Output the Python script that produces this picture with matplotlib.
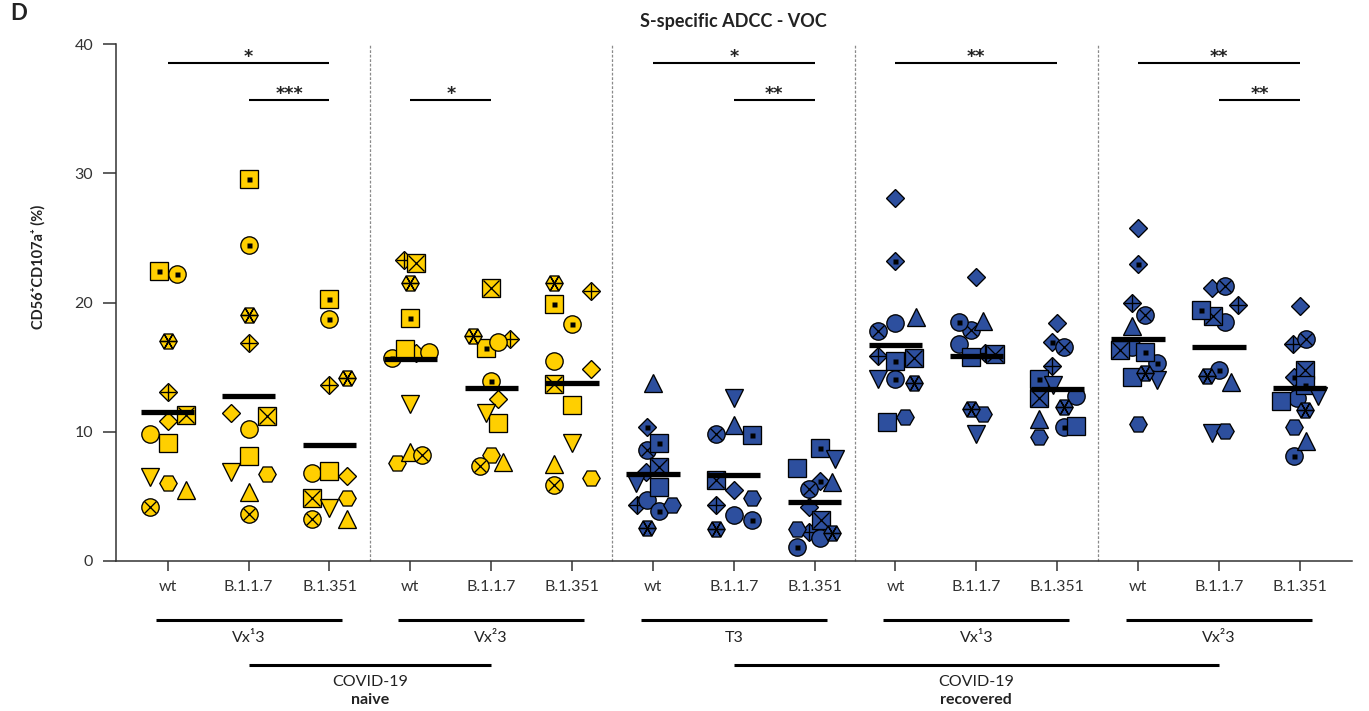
import numpy as np
import matplotlib
matplotlib.use("Agg")
import matplotlib.pyplot as plt
from matplotlib.transforms import blended_transform_factory

plt.rcParams["font.family"] = ["Lato", "DejaVu Sans"]

# --- data ------------------------------------------------------------------
VARIANTS = ["wt", "B.1.1.7", "B.1.351"]
GROUPS = ["Vx\u00b93", "Vx\u00b23", "T3", "Vx\u00b93", "Vx\u00b23"]
GROUP_COHORT = ["naive", "naive", "recovered", "recovered", "recovered"]

# one symbol per donor
NAIVE_DONORS = ["sq_dot", "o_dot", "h_star", "D_plus", "sq_x", "D",
                "o", "sq", "v", "H", "^", "o_x"]
RECOVERED_DONORS = ["D", "D_dot", "D_plus", "o", "o_x", "o_dot", "sq",
                    "sq_x", "sq_dot", "^", "v", "H", "h_star"]

nan = np.nan
# CD56+CD107a+ (%) per donor, rows = wt / B.1.1.7 / B.1.351
naive_vx1 = [
    [22.4, 22.2, 17.0, 13.05, 11.3, 10.86, 9.83, 9.1, 6.5, 6.0, 5.5, 4.2],
    [29.58, 24.42, 19.03, 16.84, 11.24, 11.47, 10.24, 8.12, 6.9, 6.73, 5.3, 3.6],
    [20.27, 18.72, 14.18, 13.59, 4.9, 6.58, 6.78, 6.96, 4.08, 4.9, 3.22, 3.22],
]
naive_vx2 = [
    [18.83, 15.68, 21.53, 23.29, 23.03, 16.07, 16.2, 16.4, 12.15, 7.56, 8.46, 8.2],
    [16.5, 13.93, 17.41, 17.18, 21.1, 12.5, 16.97, 10.65, 11.42, 8.2, 7.68, 7.38],
    [19.86, 18.31, 21.53, 20.89, 13.67, 14.83, 15.47, 12.07, 9.1, 6.4, 7.48, 5.88],
]
recovered_t3 = [
    [6.9, 10.39, 4.33, 4.72, 8.59, 3.87, 5.75, 7.3, 9.1, 13.75, 6.01, 4.33, 2.58],
    [5.49, nan, 4.33, 3.56, 9.8, 3.17, nan, 6.27, 9.75, 10.52, 12.59, 4.9, 2.45],
    [4.2, 6.19, 2.27, 1.75, 5.57, 1.06, 7.22, 3.17, 8.77, 6.14, 7.87, 2.45, 2.19],
]
recovered_vx1 = [
    [28.06, 23.24, 15.86, 18.44, 17.8, 14.06, 10.78, 15.68, 15.47, 18.9, 14.06, 11.16, 13.75],
    [21.95, nan, 16.07, 16.79, 17.87, 18.52, 15.8, 15.99, nan, 18.59, 9.83, 11.35, 11.73],
    [18.39, 16.97, 15.09, 12.77, 16.53, 10.34, 10.44, 12.59, 14.06, 10.96, 13.62, 9.62, 11.94],
]
recovered_vx2 = [
    [25.79, 22.98, 19.94, 16.58, 19.03, 15.29, 14.26, 16.33, 16.2, 18.21, 14.0, 10.57, 14.52],
    [21.1, nan, 19.81, 18.47, 21.28, 14.78, nan, 18.96, 19.42, 13.88, 9.93, 10.06, 14.34],
    [19.76, 14.21, 16.79, 12.59, 17.18, 8.15, 12.4, 14.78, 13.62, 9.31, 12.77, 10.34, 11.68],
]

# horizontal scatter offsets (category units), same layout as values
naive_vx1_dx = [
    [-0.11, 0.115, 0, 0, 0.23, 0, -0.22, 0, -0.22, 0, 0.23, -0.22],
    [0, 0, 0, 0, 0.23, -0.22, 0, 0, -0.22, 0.23, 0, 0],
    [0, 0, 0.22, 0, -0.22, 0.22, -0.22, 0, 0, 0.22, 0.22, -0.22],
]
naive_vx2_dx = [
    [0, -0.23, 0, -0.08, 0.07, 0.07, 0.23, -0.07, 0, -0.16, 0, 0.14],
    [-0.07, 0, -0.22, 0.23, 0, 0.08, 0.08, 0.08, -0.07, 0, 0.15, -0.14],
    [-0.22, 0, -0.22, 0.23, -0.22, 0.23, -0.22, 0, 0, 0.23, -0.22, -0.22],
]
recovered_t3_dx = [
    [-0.08, -0.07, -0.2, -0.07, -0.07, 0.08, 0.08, 0.08, 0.08, 0, -0.21, 0.23, -0.07],
    [0, 0, -0.22, 0, -0.22, 0.23, 0, -0.22, 0.23, 0, 0, 0.23, -0.22],
    [-0.07, 0.07, -0.07, 0.07, -0.07, -0.22, -0.22, 0.08, 0.07, 0.22, 0.25, -0.22, 0.22],
]
recovered_vx1_dx = [
    [0, 0, -0.22, 0, -0.22, 0, -0.1, 0.23, 0, 0.25, -0.22, 0.12, 0.23],
    [0, 0, 0.11, -0.22, -0.07, -0.22, -0.06, 0.23, 0, 0.08, 0, 0.08, -0.07],
    [0, -0.07, -0.07, 0.23, 0.08, 0.08, 0.23, -0.22, -0.22, -0.22, -0.05, -0.22, 0.08],
]
recovered_vx2_dx = [
    [0, 0, -0.07, -0.07, 0.08, 0.23, -0.07, -0.22, 0.08, -0.07, 0.24, 0, 0.08],
    [-0.08, 0, 0.24, 0.08, 0.08, 0, 0, -0.07, -0.22, 0.15, -0.08, 0.08, -0.15],
    [0, -0.07, -0.08, -0.04, 0.08, -0.07, -0.23, 0.07, 0.07, 0.08, 0.23, -0.07, 0.07],
]

# significance: (column a, column b, label), columns numbered 0..14
SIGNIF = [(0, 2, "*"), (1, 2, "***"), (3, 4, "*"), (6, 8, "*"), (7, 8, "**"),
          (9, 11, "**"), (12, 14, "**"), (13, 14, "**")]

# --- styling ---------------------------------------------------------------
COLORS = {"naive": "#FFCF00", "recovered": "#2D4F9E"}
SYMBOLS = {
    "o": ("o", None), "o_x": ("o", "x"), "o_dot": ("o", "dot"),
    "sq": ("s", None), "sq_x": ("s", "x"), "sq_dot": ("s", "dot"),
    "D": ("D", None), "D_dot": ("D", "dot"), "D_plus": ("D", "+"),
    "^": ("^", None), "v": ("v", None), "H": ("H", None), "h_star": ("H", "*"),
}
MS = 12.5
TXT = "#222222"


def draw_point(ax, x, y, code, color, z):
    base, overlay = SYMBOLS[code]
    size = MS / np.sqrt(2) if base == "D" else MS
    if base in ("^", "v"):
        size = MS * 1.03
    ax.plot(x, y, marker=base, ms=size, mfc=color, mec="black", mew=0.95,
            ls="none", zorder=z)
    kw = dict(ls="none", mec="black", mew=0.95, zorder=z + 0.5)
    if overlay == "dot":
        ax.plot(x, y, marker="s", ms=3.6, mfc="black", mec="none",
                ls="none", zorder=z + 0.5)
    elif overlay == "x":
        ax.plot(x, y, marker="x", ms=MS * (0.7 if base == "o" else 0.97), **kw)
    elif overlay == "+":
        ax.plot(x, y, marker="+", ms=MS * 0.97, **kw)
    elif overlay == "*":
        ax.plot(x, y, marker=(6, 2, 30), ms=MS * 0.97, **kw)


W, H = 1369, 711
fig = plt.figure(figsize=(W / 100, H / 100), dpi=100)
x0, x1 = -0.64, 14.64
ax = fig.add_axes([116 / W, 150 / H, (x1 - x0) * 80.86 / W, 517 / H])

group_values = [naive_vx1, naive_vx2, recovered_t3, recovered_vx1, recovered_vx2]
group_dx = [naive_vx1_dx, naive_vx2_dx, recovered_t3_dx, recovered_vx1_dx,
            recovered_vx2_dx]

z = 3
for g, (vals, dxs) in enumerate(zip(group_values, group_dx)):
    cohort = GROUP_COHORT[g]
    donors = NAIVE_DONORS if cohort == "naive" else RECOVERED_DONORS
    for v in range(3):
        col = g * 3 + v
        for code, y, dx in zip(donors, vals[v], dxs[v]):
            if np.isnan(y):
                continue
            draw_point(ax, col + dx, y, code, COLORS[cohort], z)
            z += 1
        mean = np.nanmean(vals[v])
        ax.hlines(mean, col - 0.33, col + 0.33, color="black", lw=3.8,
                  zorder=500)

# dashed group separators
for g in range(1, 5):
    ax.plot([g * 3 - 0.5] * 2, [0, 40], color="#8a8a8a", lw=0.9,
            ls=(0, (2.2, 1.4)), zorder=1, clip_on=False)

# significance bars
for a, b, lab in SIGNIF:
    yb = 38.5 if b - a == 2 else 35.65
    ax.plot([a, b], [yb, yb], color="black", lw=1.5, solid_capstyle="butt",
            clip_on=False)
    ax.text((a + b) / 2, yb + 0.1, lab, ha="center", va="baseline",
            fontsize=12.5, family="DejaVu Sans", fontweight="bold", color=TXT)

ax.set_xlim(x0, x1)
ax.set_ylim(0, 40)
ax.set_yticks([0, 10, 20, 30, 40])
ax.set_xticks(range(15))
ax.set_xticklabels(VARIANTS * 5)
for side in ("top", "right"):
    ax.spines[side].set_visible(False)
for side in ("left", "bottom"):
    ax.spines[side].set_linewidth(1.1)
    ax.spines[side].set_color("#333333")
ax.tick_params(axis="y", length=9.5, width=1.1, pad=7, labelsize=11.5,
               colors="#333333")
ax.tick_params(axis="x", length=7.5, width=1.1, pad=6.5, labelsize=11.5,
               colors="#333333")

# group / cohort annotations below the axis
trans = blended_transform_factory(ax.transData, ax.transAxes)
for g, name in enumerate(GROUPS):
    c = g * 3 + 1
    ax.plot([c - 1.15, c + 1.15], [-0.114, -0.114], color="black", lw=2.2,
            transform=trans, clip_on=False, solid_capstyle="butt")
    ax.text(c, -0.149, name, transform=trans, ha="center", va="center",
            fontsize=11.5, color=TXT)

for cohort, (a, b) in zip(["naive", "recovered"], [(1, 4), (7, 13)]):
    ax.plot([a, b], [-0.201, -0.201], color="black", lw=2.2,
            transform=trans, clip_on=False, solid_capstyle="butt")
    mid = (a + b) / 2
    ax.text(mid, -0.234, "COVID-19", transform=trans, ha="center",
            va="center", fontsize=11.5, color=TXT)
    ax.text(mid, -0.268, cohort, transform=trans, ha="center", va="center",
            fontsize=11.5, fontweight="bold", color=TXT)

ax.set_title("S-specific ADCC - VOC", fontsize=13, fontweight="bold",
             pad=12, color=TXT)
fig.text(38 / W, 1 - 267 / H, "CD56\u207aCD107a\u207a (%)", rotation=90,
         ha="center", va="center", fontsize=10.5, fontweight="bold",
         color=TXT)
fig.text(10 / W, 1 - 13 / H, "D", ha="left", va="center", fontsize=16,
         fontweight="bold", color=TXT)

fig.savefig("out.png", dpi=100)
